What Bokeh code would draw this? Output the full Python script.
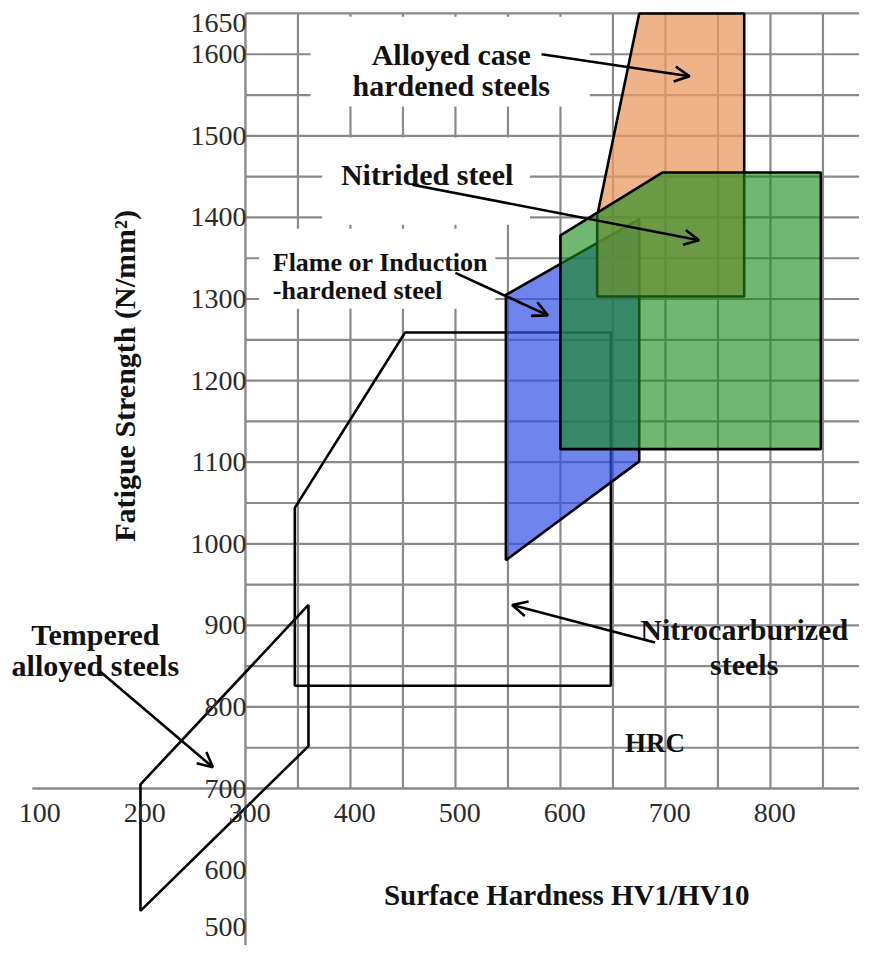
from bokeh.plotting import figure
from bokeh.models import Range1d, Arrow, OpenHead
from bokeh.core.properties import value
from bokeh.embed import file_html
from bokeh.resources import INLINE

# ---------------- data ----------------
x_ticks = [100, 200, 300, 400, 500, 600, 700, 800]
y_ticks = [500, 600, 700, 800, 900, 1000, 1100, 1200, 1300, 1400, 1500, 1600, 1650]
grid_x = [350, 400, 450, 500, 550, 600, 650, 700, 750, 800, 850]
grid_y = [750, 800, 850, 900, 950, 1000, 1050, 1100, 1150, 1200, 1250, 1300,
          1350, 1400, 1450, 1500, 1550, 1600, 1650]

# surface hardness (HV) / fatigue strength (N/mm2) outlines
tempered_x = [200, 200, 360, 360]
tempered_y = [550, 705, 925, 752]
nitrocarb_x = [347, 347, 452, 648, 648]
nitrocarb_y = [826, 1044, 1259, 1259, 826]
flame_x = [548, 548, 675, 675]
flame_y = [980, 1305, 1398, 1101]
case_x = [635, 635, 675, 775, 775]
case_y = [1303, 1402, 1650, 1650, 1303]
nitrided_x = [600, 600, 697, 848, 848]
nitrided_y = [1116, 1378, 1455, 1455, 1116]

# annotation texts
label_lines = ["Alloyed case", "hardened steels", "Nitrided steel",
               "Tempered", "alloyed steels", "Nitrocarburized", "steels"]
label_x = [496, 496, 473, 157, 157, 775, 775]
label_y = [1600, 1562, 1453, 889, 851, 895, 852]
flame_lines = ["Flame or Induction", "-hardened steel"]
flame_lx = [326, 326]
flame_ly = [1345, 1310]

# arrows: (x_start, y_start, x_end, y_end)
arrows = [
    (582, 1600, 723, 1573),
    (459, 1440, 732, 1372),
    (500, 1332, 588, 1280),
    (690, 879, 554, 925),
    (161, 844, 269, 726),
]

# white backgrounds behind the upper labels (left, right, top, bottom)
label_boxes = [
    (362, 628, 1646, 1536),
    (373, 571, 1498, 1391),
    (313, 538, 1386, 1288),
]

# ---------------- figure ----------------
X0, X1 = 66.7, 884.8
Y0, Y1 = 507.6, 1665.9
p = figure(width=859, height=945, x_range=Range1d(X0, X1), y_range=Range1d(Y0, Y1),
           output_backend="svg", toolbar_location=None, min_border=0,
           x_axis_location=None, y_axis_location=None)
p.grid.visible = False
p.outline_line_color = None
p.background_fill_color = "white"

GRID = "#8a8a8a"
SERIF = value("Liberation Serif")

# grid
p.segment(x0=grid_x, y0=[700] * len(grid_x), x1=grid_x, y1=[1650] * len(grid_x),
          line_color=GRID, line_width=2.2)
p.segment(x0=[300] * len(grid_y), y0=grid_y, x1=[X1] * len(grid_y), y1=grid_y,
          line_color=GRID, line_width=2.2)
# axes lines
p.segment(x0=[97, 300], y0=[700, Y0], x1=[X1, 300], y1=[700, 1650],
          line_color=GRID, line_width=2.4)

# label backgrounds
p.quad(left=[b[0] for b in label_boxes], right=[b[1] for b in label_boxes],
       top=[b[2] for b in label_boxes], bottom=[b[3] for b in label_boxes],
       fill_color="white", line_color=None)

# outlines without fill
p.patch(tempered_x, tempered_y, fill_alpha=0, line_color="black", line_width=2.6)
p.patch(nitrocarb_x, nitrocarb_y, fill_alpha=0, line_color="black", line_width=2.6)
# filled regions
p.patch(flame_x, flame_y, fill_color="#3350e6", fill_alpha=0.7,
        line_color="black", line_width=2.6)
p.patch(case_x, case_y, fill_color="#ea9a62", fill_alpha=0.75,
        line_color="black", line_width=2.6)
p.patch(nitrided_x, nitrided_y, fill_color="#1a8a1a", fill_alpha=0.62,
        line_color="black", line_width=2.6)

# arrows
for xs, ys, xe, ye in arrows:
    p.add_layout(Arrow(end=OpenHead(size=15, line_width=2.6, line_color="black"),
                       x_start=xs, y_start=ys, x_end=xe, y_end=ye,
                       line_width=2.6, line_color="black"))

# tick labels (the extreme ones are kept inside the page)
y_label_pos = [min(max(v, 530), 1638) for v in y_ticks]
p.text(x=[301] * len(y_ticks), y=y_label_pos, text=[str(v) for v in y_ticks],
       text_font=SERIF, text_font_size="28px", text_color="#2b2b2b",
       text_align="right", text_baseline="middle")
p.text(x=[x + 4 for x in x_ticks], y=[670.6] * len(x_ticks), text=[str(v) for v in x_ticks],
       text_font=SERIF, text_font_size="28px", text_color="#2b2b2b",
       text_align="center", text_baseline="middle")

# annotation labels
p.text(x=label_x, y=label_y, text=label_lines, text_font=SERIF,
       text_font_style="bold", text_font_size="30px", text_color="#111111",
       text_align="center", text_baseline="alphabetic")
p.text(x=flame_lx, y=flame_ly, text=flame_lines, text_font=SERIF,
       text_font_style="bold", text_font_size="26px", text_color="#111111",
       text_align="left", text_baseline="alphabetic")
p.text(x=[690], y=[756], text=["HRC"], text_font=SERIF,
       text_font_style="bold", text_font_size="27px", text_color="#111111",
       text_align="center", text_baseline="alphabetic")

# axis titles
p.text(x=[606], y=[569], text=["Surface Hardness HV1/HV10"], text_font=SERIF,
       text_font_style="bold", text_font_size="29px", text_color="#111111",
       text_align="center", text_baseline="alphabetic")
p.text(x=[185], y=[1215], text=["Fatigue Strength   (N/mm\u00b2)"], text_font=SERIF,
       text_font_style="bold", text_font_size="30px", text_color="#111111",
       text_align="center", text_baseline="alphabetic", angle=1.5708)

open("out.html", "w").write(file_html(p, INLINE))
